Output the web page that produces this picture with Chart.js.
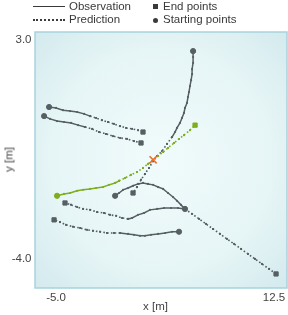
<!DOCTYPE html>
<html>
<head>
<meta charset="utf-8">
<script src="https://cdn.jsdelivr.net/npm/chart.js@4/dist/chart.umd.min.js"></script>
<style>
  html, body { margin: 0; padding: 0; background: #ffffff; }
  #wrap { position: relative; width: 288px; height: 315px; font-family: "Liberation Sans", Arial, sans-serif; color: #3a3a3a; }
  #c { position: absolute; left: 0; top: 0; }
  .lg { position: absolute; font-size: 11.5px; line-height: 13px; white-space: nowrap; }
  .ln { position: absolute; width: 32px; height: 0; }
  .ttl { position: absolute; font-size: 11.5px; line-height: 13px; white-space: nowrap; color: #444; }
</style>
</head>
<body>
<div id="wrap">
  <canvas id="c" width="288" height="315"></canvas>
  <div class="ln" style="left:33px;top:6px;border-top:1.5px solid #3a3a3a;"></div>
  <div class="lg" style="left:69px;top:0px;">Observation</div>
  <div class="ln" style="left:33px;top:19px;border-top:2px dotted #3a3a3a;"></div>
  <div class="lg" style="left:69px;top:13px;">Prediction</div>
  <div style="position:absolute;left:153px;top:4px;width:5px;height:5px;background:#3a3a3a;"></div>
  <div class="lg" style="left:163px;top:0px;">End points</div>
  <div style="position:absolute;left:153px;top:17.5px;width:5px;height:5px;border-radius:50%;background:#3a3a3a;"></div>
  <div class="lg" style="left:163px;top:13px;">Starting points</div>
  <div class="ttl" style="left:143px;top:300px;">x [m]</div>
  <div class="ttl" style="left:-6px;top:153px;transform:rotate(-90deg);width:30px;text-align:center;">y [m]</div>
</div>
<script>
// Axis limits and ticks
const xLimits = [-6.69, 13.54];
const yLimits = [-4.93, 3.26];
const xTickValues = [-5.0, 12.5];
const yTickValues = [-4.0, 3.0];

// Trajectories: observation (solid) then prediction (dotted)
const trajA_obs = [[-5.56,0.86],[-5.00,0.83],[-4.44,0.76],[-3.88,0.73],[-3.31,0.70],[-2.75,0.64],[-2.27,0.57]];
const trajA_pred = [[-1.79,0.51],[-1.31,0.44],[-0.83,0.38],[-0.35,0.32],[0.14,0.25],[0.62,0.19],[1.10,0.16],[1.58,0.12],[1.98,0.06]];

const trajB_obs = [[-5.96,0.57],[-5.48,0.48],[-4.92,0.41],[-4.36,0.38],[-3.80,0.35],[-3.23,0.28],[-2.67,0.22]];
const trajB_pred = [[-2.11,0.16],[-1.55,0.06],[-0.99,0.00],[-0.43,-0.07],[0.14,-0.13],[0.70,-0.16],[1.26,-0.23],[1.82,-0.29]];

const trajC_obs = [[6.00,2.65],[6.00,2.46],[6.00,2.27],[5.92,2.07],[5.92,1.91],[5.84,1.72],[5.75,1.53],[5.67,1.34],[5.59,1.18],[5.51,0.99],[5.35,0.83],[5.27,0.67],[5.11,0.51],[4.95,0.35],[4.71,0.19],[4.55,0.06],[4.31,-0.10]];
const trajC_pred = [[3.91,-0.32],[3.51,-0.55],[3.11,-0.71],[2.79,-0.87],[2.46,-1.09],[2.14,-1.28],[1.82,-1.47],[1.50,-1.70],[1.18,-1.89]];

const trajD_obs = [[-4.92,-1.98],[-4.36,-1.92],[-3.88,-1.89],[-3.31,-1.82],[-2.83,-1.79],[-2.27,-1.76],[-1.79,-1.73],[-1.23,-1.70],[-0.75,-1.63],[-0.26,-1.57],[0.06,-1.50]];
const trajD_pred = [[0.54,-1.41],[1.02,-1.31],[1.50,-1.22],[1.98,-1.09],[2.38,-0.96],[2.79,-0.83],[3.19,-0.71],[3.59,-0.58],[3.99,-0.45],[4.47,-0.29],[4.87,-0.16],[5.27,-0.04],[5.75,0.12],[6.16,0.28]];

const trajE_obs = [[-0.26,-1.98],[0.06,-1.89],[0.38,-1.79],[0.78,-1.73],[1.18,-1.66],[1.58,-1.60],[1.98,-1.57],[2.38,-1.60],[2.79,-1.63],[3.19,-1.70],[3.59,-1.76],[3.99,-1.89],[4.39,-2.02],[4.71,-2.14],[5.03,-2.27],[5.35,-2.40]];
const trajE_pred = [[5.92,-2.56],[6.48,-2.72],[7.04,-2.88],[7.60,-3.04],[8.16,-3.20],[8.72,-3.36],[9.29,-3.52],[9.85,-3.68],[10.41,-3.84],[10.97,-4.00],[11.53,-4.16],[12.10,-4.32],[12.66,-4.48]];

const trajF_obs = [[5.35,-2.40],[4.79,-2.37],[4.23,-2.37],[3.67,-2.37],[3.11,-2.40],[2.54,-2.43],[2.06,-2.53],[1.58,-2.59],[1.10,-2.69],[0.78,-2.72]];
const trajF_pred = [[0.30,-2.69],[-0.18,-2.62],[-0.67,-2.59],[-1.15,-2.53],[-1.71,-2.50],[-2.27,-2.43],[-2.83,-2.40],[-3.31,-2.34],[-3.80,-2.27],[-4.28,-2.21]];

const trajG_obs = [[4.87,-3.13],[4.31,-3.13],[3.75,-3.17],[3.19,-3.20],[2.62,-3.23],[2.14,-3.26],[1.74,-3.26],[1.26,-3.23],[0.78,-3.20],[0.14,-3.17]];
const trajG_pred = [[-0.35,-3.17],[-0.91,-3.17],[-1.47,-3.13],[-2.03,-3.10],[-2.51,-3.07],[-3.07,-3.01],[-3.64,-2.97],[-4.20,-2.91],[-4.68,-2.82],[-5.16,-2.75]];

const collisionPoint = [[2.79,-0.83]];

const GRAY = '#566064';
const GREEN = '#7fad1f';
const ORANGE = '#ea6f2d';

const toXY = arr => arr.map(p => ({x: p[0], y: p[1]}));

const grayTrajs = [[trajA_obs,trajA_pred],[trajB_obs,trajB_pred],[trajC_obs,trajC_pred],[trajE_obs,trajE_pred],[trajF_obs,trajF_pred],[trajG_obs,trajG_pred]];
const greenTrajs = [[trajD_obs,trajD_pred]];

const datasets = [];
datasets.push({ data: toXY(collisionPoint), pointStyle: 'crossRot', pointRadius: 5, borderColor: ORANGE, pointBorderWidth: 1.6, showLine: false });

function addTraj(obs, pred, color) {
  datasets.push({ data: toXY([obs[0]]), pointStyle: 'circle', pointRadius: 2.6, backgroundColor: color, borderColor: color, showLine: false });
  datasets.push({ data: toXY([pred[pred.length-1]]), pointStyle: 'rect', pointRadius: 3, backgroundColor: color, borderColor: color, showLine: false });
  datasets.push({ data: toXY(obs), showLine: true, borderColor: color, borderWidth: 1.5, pointRadius: 1.1, pointBackgroundColor: color, pointBorderWidth: 0, tension: 0 });
  datasets.push({ data: toXY([obs[obs.length-1]].concat(pred)), showLine: true, borderColor: color, borderWidth: 1.6, borderDash: [1.6, 2.2], pointRadius: 1.4, pointStyle: 'rect', pointBackgroundColor: color, pointBorderWidth: 0, tension: 0 });
}
greenTrajs.forEach(t => addTraj(t[0], t[1], GREEN));
grayTrajs.forEach(t => addTraj(t[0], t[1], GRAY));

const bgPlugin = {
  id: 'bg',
  beforeDatasetsDraw(chart) {
    const {ctx, chartArea: a} = chart;
    ctx.save();
    const cx = (a.left + a.right) / 2, cy = (a.top + a.bottom) / 2;
    const g = ctx.createRadialGradient(cx, cy, 0, cx, cy, 185);
    g.addColorStop(0, '#f1fbfb');
    g.addColorStop(0.6, '#e6f5f6');
    g.addColorStop(1, '#d2e9ed');
    ctx.fillStyle = g;
    ctx.fillRect(a.left, a.top, a.right - a.left, a.bottom - a.top);
    ctx.strokeStyle = '#a6d3dc';
    ctx.lineWidth = 1.5;
    ctx.strokeRect(a.left, a.top, a.right - a.left, a.bottom - a.top);
    ctx.restore();
  }
};

new Chart(document.getElementById('c'), {
  type: 'scatter',
  data: { datasets },
  plugins: [bgPlugin],
  options: {
    responsive: false,
    animation: false,
    events: [],
    layout: { autoPadding: false, padding: { top: 32, right: 1, left: 0, bottom: 0 } },
    plugins: { legend: { display: false }, tooltip: { enabled: false } },
    scales: {
      x: {
        type: 'linear', min: xLimits[0], max: xLimits[1],
        grid: { display: false, drawTicks: false }, border: { display: false },
        afterBuildTicks: s => { s.ticks = xTickValues.map(v => ({value: v})); },
        afterFit: s => { s.height = 27; s.paddingLeft = 0; s.paddingRight = 0; },
        ticks: { color: '#444', font: { family: 'Liberation Sans', size: 11.5 }, padding: 3, maxRotation: 0, autoSkip: false, callback: v => v.toFixed(1) }
      },
      y: {
        type: 'linear', min: yLimits[0], max: yLimits[1],
        grid: { display: false, drawTicks: false }, border: { display: false },
        afterBuildTicks: s => { s.ticks = yTickValues.map(v => ({value: v})); },
        afterFit: s => { s.width = 35; s.paddingTop = 0; s.paddingBottom = 0; },
        ticks: { color: '#444', font: { family: 'Liberation Sans', size: 11.5 }, padding: 3.5, autoSkip: false, callback: v => v.toFixed(1) }
      }
    }
  }
});
</script>
</body>
</html>
